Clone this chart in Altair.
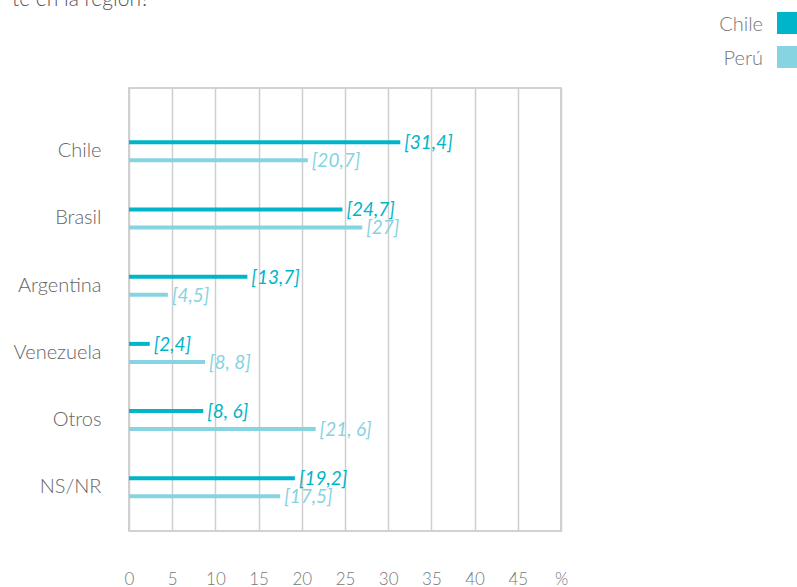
import altair as alt
import pandas as pd

categories = ["Chile", "Brasil", "Argentina", "Venezuela", "Otros", "NS/NR"]
series = ["Chile", "Perú"]
chile_values = [31.4, 24.7, 13.7, 2.4, 8.6, 19.2]
peru_values = [20.7, 27.0, 4.5, 8.8, 21.6, 17.5]
chile_labels = ["[31,4]", "[24,7]", "[13,7]", "[2,4]", "[8, 6]", "[19,2]"]
peru_labels = ["[20,7]", "[27]", "[4,5]", "[8, 8]", "[21, 6]", "[17,5]"]
x_ticks = [0, 5, 10, 15, 20, 25, 30, 35, 40, 45, 50]
series_colors = ["#00b4ca", "#86d3e1"]
title_text = "te en la región?"

rows = []
for c, v, l in zip(categories, chile_values, chile_labels):
    rows.append({"cat": c, "series": "Chile", "value": v, "label": l})
for c, v, l in zip(categories, peru_values, peru_labels):
    rows.append({"cat": c, "series": "Perú", "value": v, "label": l})
df = pd.DataFrame(rows)

FONT = "Lato"
color_scale = alt.Scale(domain=series, range=series_colors)

x_enc = alt.X(
    "value:Q",
    scale=alt.Scale(domain=[0, 50], nice=False, zero=True),
    axis=alt.Axis(
        title=None, values=x_ticks, grid=True, gridColor="#cfcfcf", gridWidth=1.5,
        domain=False, ticks=False, labelPadding=40, labelFontSize=17,
        labelColor="#777777", labelFont=FONT, labelFontWeight=300,
        labelFlush=False, labelOverlap=False,
        labelExpr="datum.value == 50 ? '%' : datum.label",
    ),
)
y_enc = alt.Y(
    "cat:N", sort=categories,
    scale=alt.Scale(paddingInner=0, paddingOuter=0.296, align=0.746),
    axis=alt.Axis(
        title=None, domain=False, ticks=False, labelPadding=28, labelFontSize=20,
        labelColor="#666666", labelFont=FONT, labelFontWeight=300,
    ),
)
yoff_enc = alt.YOffset("series:N", sort=series,
                       scale=alt.Scale(paddingInner=0, paddingOuter=0.867))
color_enc = alt.Color("series:N", scale=color_scale, legend=None)

base = alt.Chart(df)
bars = base.mark_bar(height=4).encode(x=x_enc, y=y_enc, yOffset=yoff_enc, color=color_enc)
texts = base.mark_text(
    align="left", baseline="middle", dx=4, dy=1, fontSize=19,
    fontStyle="italic", font=FONT,
).encode(x=x_enc, y=y_enc, yOffset=yoff_enc, text="label:N", color=color_enc)

legend_df = pd.DataFrame({"series": series})
legend_layers = []
for i, s in enumerate(series):
    ld = alt.Chart(legend_df).transform_filter(alt.datum.series == s)
    top = -76 + i * 34
    legend_layers.append(
        ld.mark_rect().encode(
            x=alt.value(648), x2=alt.value(668),
            y=alt.value(top), y2=alt.value(top + 22),
            color=color_enc,
        )
    )
    legend_layers.append(
        ld.mark_text(align="right", baseline="middle", fontSize=20, font=FONT,
                     fontWeight=300, color="#777777").encode(
            x=alt.value(634), y=alt.value(top + 13), text="series:N",
        )
    )

title_df = pd.DataFrame({"t": [title_text]})
title_layer = alt.Chart(title_df).mark_text(
    align="left", baseline="alphabetic", fontSize=21, font=FONT, fontWeight=300,
    color="#555555",
).encode(x=alt.value(-117), y=alt.value(-82), text="t:N")

chart = alt.layer(bars, texts, title_layer, *legend_layers).properties(
    width=432, height=443,
    autosize=alt.AutoSizeParams(type="none"),
    padding={"left": 129, "top": 88, "right": 236, "bottom": 56},
).configure_view(stroke="#c4c4c4", strokeWidth=1.5)

chart.save("out.html", embed_options={"renderer": "svg", "actions": False})
